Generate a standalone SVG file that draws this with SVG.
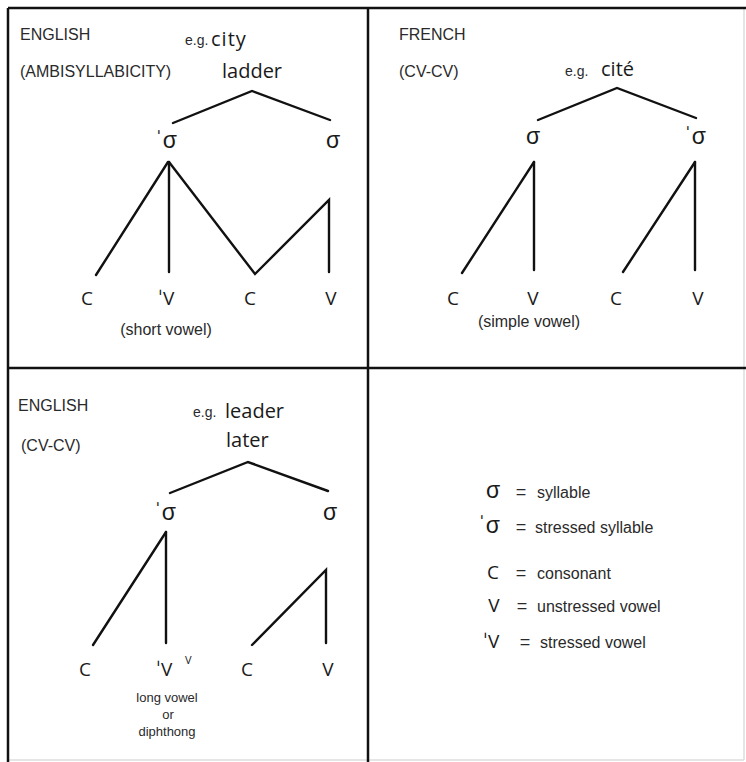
<svg xmlns="http://www.w3.org/2000/svg" width="746" height="762" viewBox="0 0 746 762">
<style>
.bg{fill:#fff}
.frame{stroke:#111;stroke-width:2.5;fill:none}
.faint{stroke:#ddd;stroke-width:1.5;fill:none}
.ln{stroke:#111;stroke-width:2.4;fill:none;stroke-linecap:round;stroke-linejoin:miter}
.hd{font-family:"Liberation Sans",Arial,sans-serif;font-size:16px;fill:#2a2a2a}
.eg{font-family:"Liberation Sans",Arial,sans-serif;font-size:14px;fill:#2a2a2a}
.word{font-family:"Open Sans","DejaVu Sans",sans-serif;font-size:20px;fill:#1a1a1a}
.sig{font-family:"Liberation Sans",Arial,sans-serif;font-size:23px;fill:#1a1a1a;text-anchor:middle}
.seg{font-family:"Open Sans","DejaVu Sans",sans-serif;font-size:19px;fill:#1a1a1a;text-anchor:middle}
.note{font-family:"Liberation Sans",Arial,sans-serif;font-size:16px;fill:#2a2a2a;text-anchor:middle}
.small{font-family:"Liberation Sans",Arial,sans-serif;font-size:13px;fill:#2a2a2a;text-anchor:middle}
.sup{font-family:"Open Sans","DejaVu Sans",sans-serif;font-size:11px;fill:#1a1a1a}
.lg{font-family:"Liberation Sans",Arial,sans-serif;font-size:16px;fill:#2a2a2a}
.eq{font-family:"Liberation Sans",Arial,sans-serif;font-size:18px;fill:#2a2a2a;text-anchor:middle}
</style>
<rect class="bg" x="0" y="0" width="746" height="762"/>
<g id="frame">
<line class="faint" x1="744" y1="8" x2="744" y2="760"/>
<line class="faint" x1="8" y1="760" x2="744" y2="760"/>
<line class="frame" x1="8" y1="8" x2="746" y2="8"/>
<line class="frame" x1="8" y1="8" x2="8" y2="762"/>
<line class="frame" x1="368" y1="8" x2="368" y2="762"/>
<line class="frame" x1="8" y1="368" x2="746" y2="368"/>
</g>
<g id="connectors">
<polyline class="ln" points="173,123 252,91 330,120"/>
<line class="ln" x1="168" y1="162" x2="96" y2="275"/>
<line class="ln" x1="169" y1="162" x2="169" y2="272"/>
<polyline class="ln" points="169,162 255,274 329,200 329,272"/>
<polyline class="ln" points="538,120 617,88 696,118"/>
<line class="ln" x1="534" y1="162" x2="462" y2="273"/>
<line class="ln" x1="534" y1="162" x2="534" y2="270"/>
<line class="ln" x1="695" y1="162" x2="623" y2="272"/>
<line class="ln" x1="695" y1="162" x2="695" y2="270"/>
<polyline class="ln" points="170,493 248,462 328,491"/>
<line class="ln" x1="166" y1="532" x2="93" y2="645"/>
<line class="ln" x1="166" y1="532" x2="166" y2="643"/>
<polyline class="ln" points="252,645 326,570 326,643"/>
</g>
<g id="panel-english-ambi">
<text class="hd" x="20" y="40">ENGLISH</text>
<text class="hd" x="20" y="77">(AMBISYLLABICITY)</text>
<text class="eg" x="185" y="45">e.g.</text>
<text class="word" x="211" y="46" font-size="22" letter-spacing="1">city</text>
<text class="word" x="222" y="78">ladder</text>
<g id="ea-s1"><text class="sig" x="166" y="148">ˈσ</text></g>
<g id="ea-s2"><text class="sig" x="333" y="148">σ</text></g>
<g id="ea-c1"><text class="seg" x="87" y="305">C</text></g>
<g id="ea-v1"><text class="seg" x="166" y="305">ˈV</text></g>
<g id="ea-c2"><text class="seg" x="250" y="305">C</text></g>
<g id="ea-v2"><text class="seg" x="331" y="305">V</text></g>
<text class="note" x="166" y="335">(short vowel)</text>
</g>
<g id="panel-french">
<text class="hd" x="399" y="40">FRENCH</text>
<text class="hd" x="399" y="77">(CV-CV)</text>
<text class="eg" x="565" y="76">e.g.</text>
<text class="word" x="601" y="76" font-size="21">cité</text>
<g id="fr-s1"><text class="sig" x="533" y="144">σ</text></g>
<g id="fr-s2"><text class="sig" x="695" y="144">ˈσ</text></g>
<g id="fr-c1"><text class="seg" x="453" y="305">C</text></g>
<g id="fr-v1"><text class="seg" x="533" y="305">V</text></g>
<g id="fr-c2"><text class="seg" x="616" y="305">C</text></g>
<g id="fr-v2"><text class="seg" x="698" y="305">V</text></g>
<text class="note" x="529" y="327">(simple vowel)</text>
</g>
<g id="panel-english-cvcv">
<text class="hd" x="18" y="411">ENGLISH</text>
<text class="hd" x="21" y="451">(CV-CV)</text>
<text class="eg" x="193" y="417">e.g.</text>
<text class="word" x="225" y="418">leader</text>
<text class="word" x="226" y="447">later</text>
<g id="ec-s1"><text class="sig" x="165" y="520">ˈσ</text></g>
<g id="ec-s2"><text class="sig" x="330" y="520">σ</text></g>
<g id="ec-c1"><text class="seg" x="85" y="676">C</text></g>
<g id="ec-v1"><text class="seg" x="164" y="676">ˈV</text><text class="sup" x="185" y="664">V</text></g>
<g id="ec-c2"><text class="seg" x="247" y="676">C</text></g>
<g id="ec-v2"><text class="seg" x="328" y="676">V</text></g>
<text class="small" x="167" y="702">long vowel</text>
<text class="small" x="168" y="719">or</text>
<text class="small" x="167" y="736">diphthong</text>
</g>
<g id="legend">
<text class="sig" x="493" y="498">σ</text><text class="eq" x="521" y="498">=</text><text class="lg" x="537" y="498">syllable</text>
<text class="sig" x="489" y="533">ˈσ</text><text class="eq" x="521" y="533">=</text><text class="lg" x="535" y="533">stressed syllable</text>
<text class="seg" x="493" y="579">C</text><text class="eq" x="521" y="579">=</text><text class="lg" x="537" y="579">consonant</text>
<text class="seg" x="494" y="612">V</text><text class="eq" x="522" y="612">=</text><text class="lg" x="537" y="612">unstressed vowel</text>
<text class="seg" x="491" y="648">ˈV</text><text class="eq" x="525" y="648">=</text><text class="lg" x="540" y="648">stressed vowel</text>
</g>
</svg>
